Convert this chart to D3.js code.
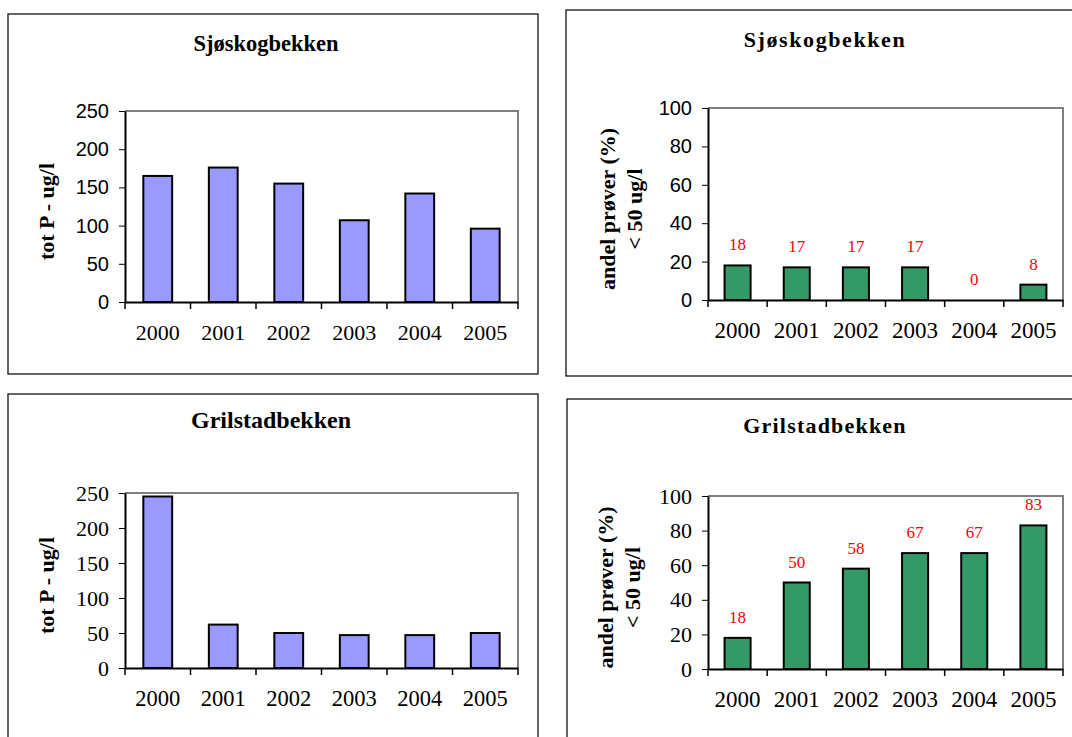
<!DOCTYPE html>
<html lang="no">
  <head>
    <meta charset="utf-8" />
    <title>Sjøskogbekken og Grilstadbekken</title>
    <script src="https://d3js.org/d3.v7.min.js"></script>
    <style>
      body {
        margin: 0;
        background: #fff;
      }
      .frame {
        fill: none;
        stroke: #000;
        stroke-width: 1.2;
      }
      .title {
        font-family: "Liberation Serif", "Times New Roman", serif;
        font-weight: bold;
      }
      .ylabel {
        font-family: "Liberation Serif", "Times New Roman", serif;
        font-weight: bold;
        font-size: 22px;
      }
      .axis text {
        fill: #000;
      }
      .axis path,
      .axis line {
        stroke: #000;
      }
      .value {
        font-family: "Liberation Serif", "Times New Roman", serif;
        font-size: 17px;
        fill: #ff0000;
      }
    </style>
  </head>
  <body>
    <svg id="chart"></svg>
    <script>
      const years = ["2000", "2001", "2002", "2003", "2004", "2005"];
      const sjoTotP = [165, 176, 155, 107, 142, 96];
      const sjoShare = [18, 17, 17, 17, 0, 8];
      const griTotP = [245, 62, 50, 47, 47, 50];
      const griShare = [18, 50, 58, 67, 67, 83];

      const totPTicks = [0, 50, 100, 150, 200, 250];
      const shareTicks = [0, 20, 40, 60, 80, 100];

      const svg = d3.select("#chart").attr("width", 1072).attr("height", 737);

      const serif = '"Liberation Serif", "Times New Roman", serif';
      const sans = '"Liberation Sans", Arial, sans-serif';

      const panels = [
        {
          frame: [8, 14, 530, 360],
          plot: { left: 125, right: 518, top: 111, bottom: 302 },
          title: "Sjøskogbekken", titleX: 266, titleY: 51, titleSize: 22.5, spacing: 0,
          values: sjoTotP, max: 250, ticks: totPTicks,
          fill: "#9999ff", tickFont: sans, tickSize: 20, xFont: 22,
          ylabel: ["tot P - ug/l"], labelX: [54], showValues: false,
        },
        {
          frame: [566, 10, 520, 366],
          plot: { left: 708, right: 1063, top: 108, bottom: 300 },
          title: "Sjøskogbekken", titleX: 825, titleY: 47, titleSize: 22, spacing: 1.6,
          values: sjoShare, max: 100, ticks: shareTicks,
          fill: "#339966", tickFont: sans, tickSize: 20, xFont: 23,
          ylabel: ["andel prøver (%)", "< 50 ug/l"], labelX: [615, 642], showValues: true,
        },
        {
          frame: [8, 394, 530, 360],
          plot: { left: 125, right: 518, top: 493, bottom: 668 },
          title: "Grilstadbekken", titleX: 271, titleY: 428, titleSize: 24, spacing: 0,
          values: griTotP, max: 250, ticks: totPTicks,
          fill: "#9999ff", tickFont: serif, tickSize: 22, xFont: 22.5,
          ylabel: ["tot P - ug/l"], labelX: [54], showValues: false,
        },
        {
          frame: [567, 399, 520, 360],
          plot: { left: 708, right: 1063, top: 496, bottom: 669 },
          title: "Grilstadbekken", titleX: 825, titleY: 433, titleSize: 22, spacing: 1.2,
          values: griShare, max: 100, ticks: shareTicks,
          fill: "#339966", tickFont: serif, tickSize: 22, xFont: 23,
          ylabel: ["andel prøver (%)", "< 50 ug/l"], labelX: [613, 640], showValues: true,
        },
      ];

      panels.forEach(drawPanel);

      function drawPanel(p) {
        const g = svg.append("g");
        const [fx, fy, fw, fh] = p.frame;
        g.append("rect").attr("class", "frame").attr("x", fx).attr("y", fy).attr("width", fw).attr("height", fh);

        g.append("text")
          .attr("class", "title")
          .attr("x", p.titleX)
          .attr("y", p.titleY)
          .attr("text-anchor", "middle")
          .style("font-size", p.titleSize + "px")
          .style("letter-spacing", p.spacing + "px")
          .text(p.title);

        const x = d3.scaleBand().domain(years).range([p.plot.left, p.plot.right]).paddingInner(0.56).paddingOuter(0.28);
        const band = d3.scaleBand().domain(years).range([p.plot.left, p.plot.right]);
        const y = d3.scaleLinear().domain([0, p.max]).range([p.plot.bottom, p.plot.top]);

        // gray plot-area border (top + right)
        g.append("path")
          .attr("d", `M${p.plot.left},${p.plot.top}H${p.plot.right}V${p.plot.bottom}`)
          .attr("fill", "none")
          .attr("stroke", "#808080")
          .attr("stroke-width", 2);

        // bars
        g.selectAll("rect.bar")
          .data(p.values)
          .join("rect")
          .attr("class", "bar")
          .attr("x", (d, i) => x(years[i]))
          .attr("width", x.bandwidth())
          .attr("y", (d) => y(d))
          .attr("height", (d) => y(0) - y(d))
          .attr("fill", p.fill)
          .attr("stroke", "#000")
          .attr("stroke-width", 2)
          .style("display", (d) => (d === 0 ? "none" : null));

        if (p.showValues) {
          g.selectAll("text.value")
            .data(p.values)
            .join("text")
            .attr("class", "value")
            .attr("x", (d, i) => x(years[i]) + x.bandwidth() / 2)
            .attr("y", (d) => y(d) - 15)
            .attr("text-anchor", "middle")
            .text((d) => d);
        }

        // y axis
        const yAxis = g
          .append("g")
          .attr("class", "axis")
          .attr("transform", `translate(${p.plot.left},0)`)
          .call(d3.axisLeft(y).tickValues(p.ticks).tickSize(6).tickSizeOuter(0).tickPadding(10));
        yAxis.select(".domain").attr("stroke-width", 2);
        yAxis.selectAll("text").style("font-family", p.tickFont).style("font-size", p.tickSize + "px");

        // x axis: ticks between categories
        const xAxis = g
          .append("g")
          .attr("class", "axis")
          .attr("transform", `translate(0,${p.plot.bottom})`)
          .call(d3.axisBottom(band).tickSize(0).tickSizeOuter(0).tickPadding(22));
        xAxis.select(".domain").attr("stroke-width", 2);
        xAxis.selectAll("text").style("font-family", serif).style("font-size", p.xFont + "px");
        xAxis
          .selectAll("line.sep")
          .data(years.concat(["end"]))
          .join("line")
          .attr("class", "sep")
          .attr("x1", (d, i) => (i < years.length ? band(d) : p.plot.right))
          .attr("x2", (d, i) => (i < years.length ? band(d) : p.plot.right))
          .attr("y1", 0)
          .attr("y2", 7)
          .attr("stroke", "#000")
          .attr("stroke-width", 1.5);

        // y label
        const cy = (p.plot.top + p.plot.bottom) / 2 + 5;
        p.ylabel.forEach((line, i) => {
          g.append("text")
            .attr("class", "ylabel")
            .attr("transform", `translate(${p.labelX[i]},${cy}) rotate(-90)`)
            .attr("text-anchor", "middle")
            .text(line);
        });
      }
    </script>
  </body>
</html>
